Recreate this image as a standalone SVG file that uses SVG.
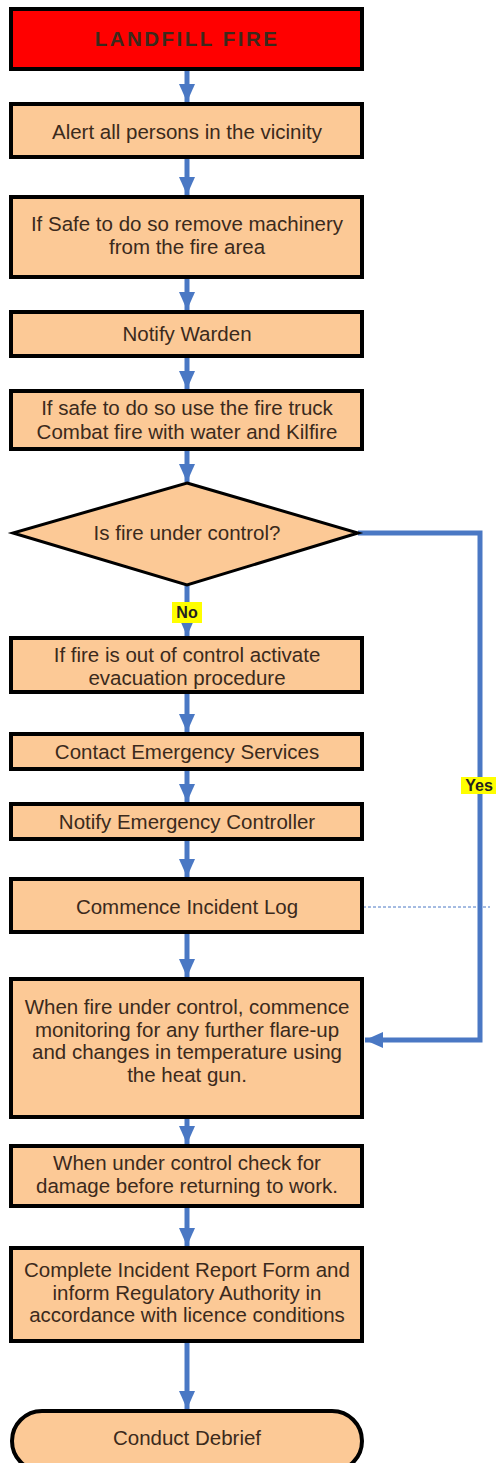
<svg xmlns="http://www.w3.org/2000/svg" width="496" height="1463" viewBox="0 0 496 1463">
<style>
.box{fill:#FCC996;stroke:#000;stroke-width:4}
.t{font-family:"Liberation Sans",Arial,sans-serif;font-size:20.5px;fill:#3b2a1c;text-anchor:middle}
.c{stroke:#4A78C4;stroke-width:5;fill:none}
.lbl{font-family:"Liberation Sans",Arial,sans-serif;font-size:16px;font-weight:bold;fill:#222;text-anchor:middle}
</style>
<defs>
<marker id="ah" markerUnits="userSpaceOnUse" markerWidth="20" markerHeight="16" refX="18" refY="8" orient="auto">
<path d="M0,0 L18,8 L0,16 Z" fill="#4A78C4"/>
</marker>
</defs>
<rect width="496" height="1463" fill="#fff"/>
<g id="connectors">
<line class="c" x1="187" y1="70" x2="187" y2="102" marker-end="url(#ah)"/>
<line class="c" x1="187" y1="158" x2="187" y2="195" marker-end="url(#ah)"/>
<line class="c" x1="187" y1="278" x2="187" y2="310" marker-end="url(#ah)"/>
<line class="c" x1="187" y1="357" x2="187" y2="389" marker-end="url(#ah)"/>
<line class="c" x1="187" y1="450" x2="187" y2="482" marker-end="url(#ah)"/>
<line class="c" x1="187" y1="585" x2="187" y2="636" marker-end="url(#ah)"/>
<line class="c" x1="187" y1="693" x2="187" y2="732" marker-end="url(#ah)"/>
<line class="c" x1="187" y1="770" x2="187" y2="802" marker-end="url(#ah)"/>
<line class="c" x1="187" y1="840" x2="187" y2="877" marker-end="url(#ah)"/>
<line class="c" x1="187" y1="933" x2="187" y2="977" marker-end="url(#ah)"/>
<line class="c" x1="187" y1="1118" x2="187" y2="1144" marker-end="url(#ah)"/>
<line class="c" x1="187" y1="1207" x2="187" y2="1246" marker-end="url(#ah)"/>
<line class="c" x1="187" y1="1342" x2="187" y2="1409" marker-end="url(#ah)"/>
<polyline class="c" points="358,533 480,533 480,1040 365,1040" marker-end="url(#ah)"/>
<line x1="363" y1="907" x2="490" y2="907" stroke="#4A78C4" stroke-width="1" stroke-dasharray="3,2"/>
<rect x="172" y="602" width="30" height="21" fill="#FFFF00"/>
<text class="lbl" x="187" y="618">No</text>
<rect x="461" y="777" width="35" height="17" fill="#FFFF00"/>
<text class="lbl" x="479" y="791">Yes</text>
</g>
<g id="n1"><rect x="11" y="9" width="351" height="60" fill="#FF0000" stroke="#000" stroke-width="4"/>
<text class="t" x="187" y="46" font-size="20" font-weight="bold" fill="#1a0a0a" style="letter-spacing:2.5px">LANDFILL FIRE</text></g>
<g id="n2"><rect class="box" x="11" y="104" width="351" height="53"/>
<text class="t" x="187" y="139">Alert all persons in the vicinity</text></g>
<g id="n3"><rect class="box" x="11" y="197" width="351" height="80"/>
<text class="t" x="187" y="231">If Safe to do so remove machinery</text>
<text class="t" x="187" y="254">from the fire area</text></g>
<g id="n4"><rect class="box" x="11" y="312" width="351" height="44"/>
<text class="t" x="187" y="341">Notify Warden</text></g>
<g id="n5"><rect class="box" x="11" y="391" width="351" height="58"/>
<text class="t" x="187" y="415">If safe to do so use the fire truck</text>
<text class="t" x="187" y="439">Combat fire with water and Kilfire</text></g>
<g id="n6"><polygon points="187,483 358,533 187,585 13,533" fill="#FCC996" stroke="#000" stroke-width="3"/>
<text class="t" x="187" y="540">Is fire under control?</text></g>
<g id="n7"><rect class="box" x="11" y="638" width="351" height="54"/>
<text class="t" x="187" y="662">If fire is out of control activate</text>
<text class="t" x="187" y="685">evacuation procedure</text></g>
<g id="n8"><rect class="box" x="11" y="734" width="351" height="35"/>
<text class="t" x="187" y="759">Contact Emergency Services</text></g>
<g id="n9"><rect class="box" x="11" y="804" width="351" height="35"/>
<text class="t" x="187" y="829">Notify Emergency Controller</text></g>
<g id="n10"><rect class="box" x="11" y="879" width="351" height="53"/>
<text class="t" x="187" y="914">Commence Incident Log</text></g>
<g id="n11"><rect class="box" x="11" y="979" width="351" height="138"/>
<text class="t" x="187" y="1014">When fire under control, commence</text>
<text class="t" x="187" y="1037">monitoring for any further flare-up</text>
<text class="t" x="187" y="1059">and changes in temperature using</text>
<text class="t" x="187" y="1082">the heat gun.</text></g>
<g id="n12"><rect class="box" x="11" y="1146" width="351" height="60"/>
<text class="t" x="187" y="1170">When under control check for</text>
<text class="t" x="187" y="1193">damage before returning to work.</text></g>
<g id="n13"><rect class="box" x="11" y="1248" width="351" height="93"/>
<text class="t" x="187" y="1277">Complete Incident Report Form and</text>
<text class="t" x="187" y="1300">inform Regulatory Authority in</text>
<text class="t" x="187" y="1322">accordance with licence conditions</text></g>
<g id="n14"><rect class="box" x="12" y="1411" width="350" height="60" rx="30" ry="30"/>
<text class="t" x="187" y="1445">Conduct Debrief</text></g>
</svg>
